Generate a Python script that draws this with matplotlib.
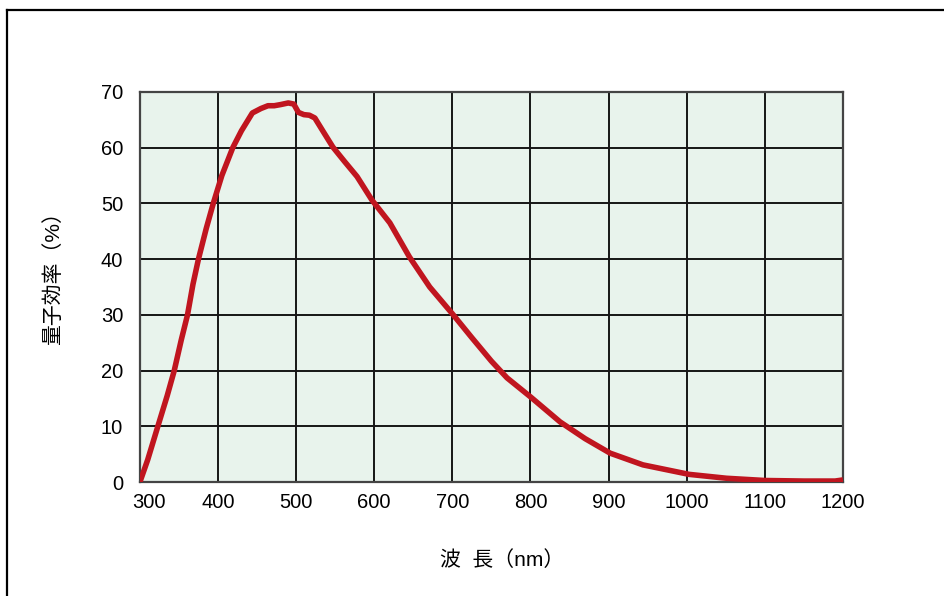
import matplotlib
matplotlib.use('Agg')
import matplotlib.pyplot as plt
import matplotlib.transforms as mtransforms
from matplotlib.lines import Line2D

plt.rcParams['font.family'] = ['Liberation Sans', 'Noto Sans CJK JP']

# 波長 (nm) と 量子効率 (%) - グラフから読み取った値
wavelength = [300, 310, 323, 335, 344, 353, 361, 368, 375, 385, 394, 405, 419, 430,
              444, 455, 464, 472, 480, 490, 497, 503, 510, 517, 524, 535, 547, 562,
              578, 597, 620, 645, 671, 700, 725, 750, 770, 800, 838, 870, 902, 944,
              1003, 1051, 1100, 1150, 1190, 1200]
qe = [0.0, 4.0, 10.0, 15.5, 20.0, 25.5, 30.0, 35.5, 40.0, 45.5, 50.0, 55.0, 60.0, 63.0,
      66.2, 67.0, 67.5, 67.5, 67.7, 68.0, 67.8, 66.3, 65.9, 65.8, 65.3, 62.8, 60.1, 57.5,
      54.8, 50.6, 46.5, 40.4, 35.0, 30.2, 25.9, 21.7, 18.7, 15.3, 10.8, 7.8, 5.2, 3.1,
      1.4, 0.7, 0.3, 0.2, 0.2, 0.4]

x_ticks = [300, 400, 500, 600, 700, 800, 900, 1000, 1100, 1200]
y_ticks = [0, 10, 20, 30, 40, 50, 60, 70]

fig = plt.figure(figsize=(9.45, 5.96), dpi=100)
ax = fig.add_axes([0.148, 0.191, 0.744, 0.655])
ax.set_facecolor('#e8f3ec')

ax.plot(wavelength, qe, color='#c0151f', linewidth=4.0, solid_capstyle='butt', zorder=3)

ax.set_xlim(300, 1200)
ax.set_ylim(0, 70)
ax.set_xticks(x_ticks)
ax.set_yticks(y_ticks)
ax.grid(True, color='#151515', linewidth=1.4)
ax.set_axisbelow(True)
ax.tick_params(length=0, labelsize=14.5, colors='black')
ax.tick_params(axis='x', pad=8)
ax.tick_params(axis='y', pad=12)
for s in ax.spines.values():
    s.set_color('#444444')
    s.set_linewidth(1.6)

# 300のラベルは少し右にずらす
lbl = ax.get_xticklabels()[0]
lbl.set_transform(lbl.get_transform() + mtransforms.ScaledTranslation(0.09, 0, fig.dpi_scale_trans))

ax.set_xlabel('波  長（nm）', fontsize=15, labelpad=27)
ax.xaxis.label.set_x(0.515)
ax.set_ylabel('量子効率（%）', fontsize=15, labelpad=27)
ax.yaxis.label.set_y(0.535)

# 外枠 (左と上のみ)
fig.add_artist(Line2D([0.0079, 0.0079], [0, 0.983], color='black', linewidth=1.6))
fig.add_artist(Line2D([0.0079, 1], [0.983, 0.983], color='black', linewidth=1.6))

fig.savefig('out.png', dpi=100)
